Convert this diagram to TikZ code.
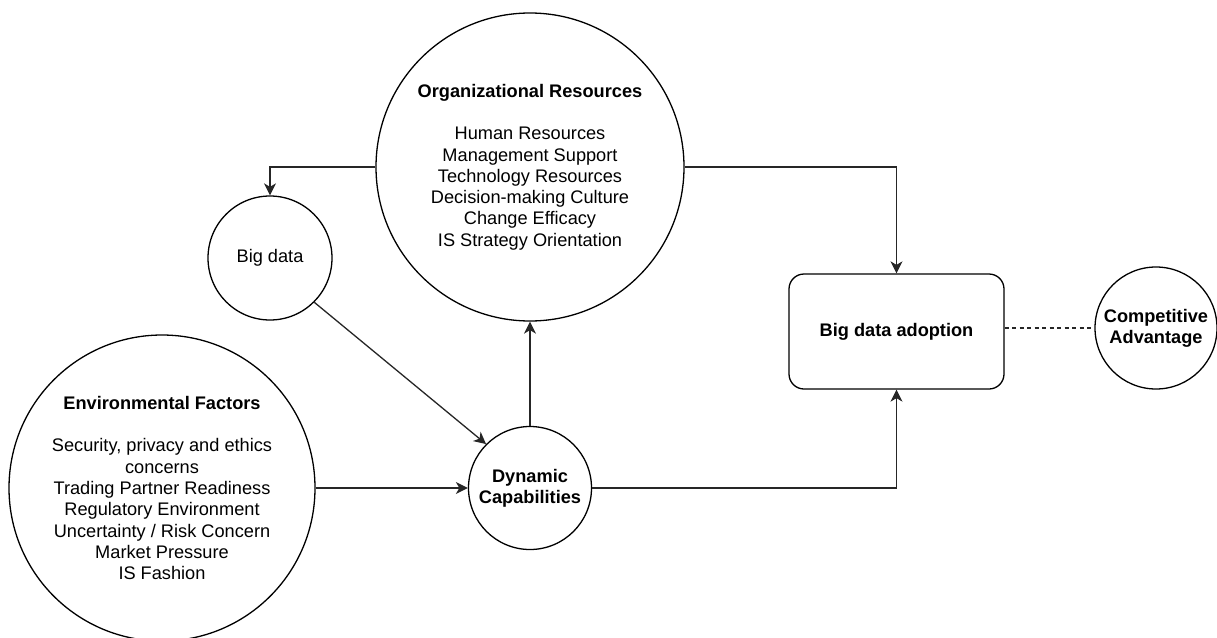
\documentclass[tikz,border=0pt]{standalone}
\usepackage{fontspec}
\setmainfont{Liberation Sans}
\usetikzlibrary{arrows.meta}
\begin{document}
\begin{tikzpicture}[x=1pt,y=-1pt,
  every node/.style={font=\fontsize{18.2}{21.3}\selectfont, align=center, inner sep=0pt},
  ball/.style={circle, draw=black, line width=1.3pt, fill=white},
  boxnode/.style={draw=black, line width=1.3pt, rounded corners=15pt, fill=white,
    minimum width=215pt, minimum height=115pt},
  link/.style={draw=black!85, line width=1.3pt},
  arr/.style={link, -{Stealth[length=12pt,width=12pt,inset=3.5pt]}},
  dashlink/.style={link, dash pattern=on 4pt off 3.5pt}]
\useasboundingbox (0,0) rectangle (1217,637);

% factors and resources
\node[ball, minimum size=308pt] (org) at (530,167)
  {\textbf{Organizational Resources}\\[21.3pt]
   Human Resources\\ Management Support\\ Technology Resources\\
   Decision-making Culture\\ Change Efficacy\\ IS Strategy Orientation};
\node[ball, minimum size=124pt] (bd) at (270,258) {Big data};
\node[ball, minimum size=306pt] (env) at (162,488)
  {\textbf{Environmental Factors}\\[21.3pt]
   Security, privacy and ethics\\ concerns\\ Trading Partner Readiness\\
   Regulatory Environment\\ Uncertainty / Risk Concern\\ Market Pressure\\ IS Fashion};
\node[ball, minimum size=123pt] (dyn) at (530,488) {\textbf{Dynamic}\\ \textbf{Capabilities}};

% outcomes
\node[boxnode] (adopt) at (896.5,331.5) {\textbf{Big data adoption}};
\node[ball, minimum size=122pt] (ca) at (1156,328) {\textbf{Competitive}\\ \textbf{Advantage}};

% relations
\draw[arr] (org.west) -| (bd.north);
\draw[arr] (bd.south east) -- (dyn.north west);
\draw[arr] (env.east) -- (dyn.west);
\draw[arr] (dyn.north) -- (org.south);
\draw[arr] (org.east) -| (adopt.north);
\draw[arr] (dyn.east) -| (adopt.south);
\draw[dashlink] (ca.west -| adopt.east) -- (ca.west);
\end{tikzpicture}
\end{document}
